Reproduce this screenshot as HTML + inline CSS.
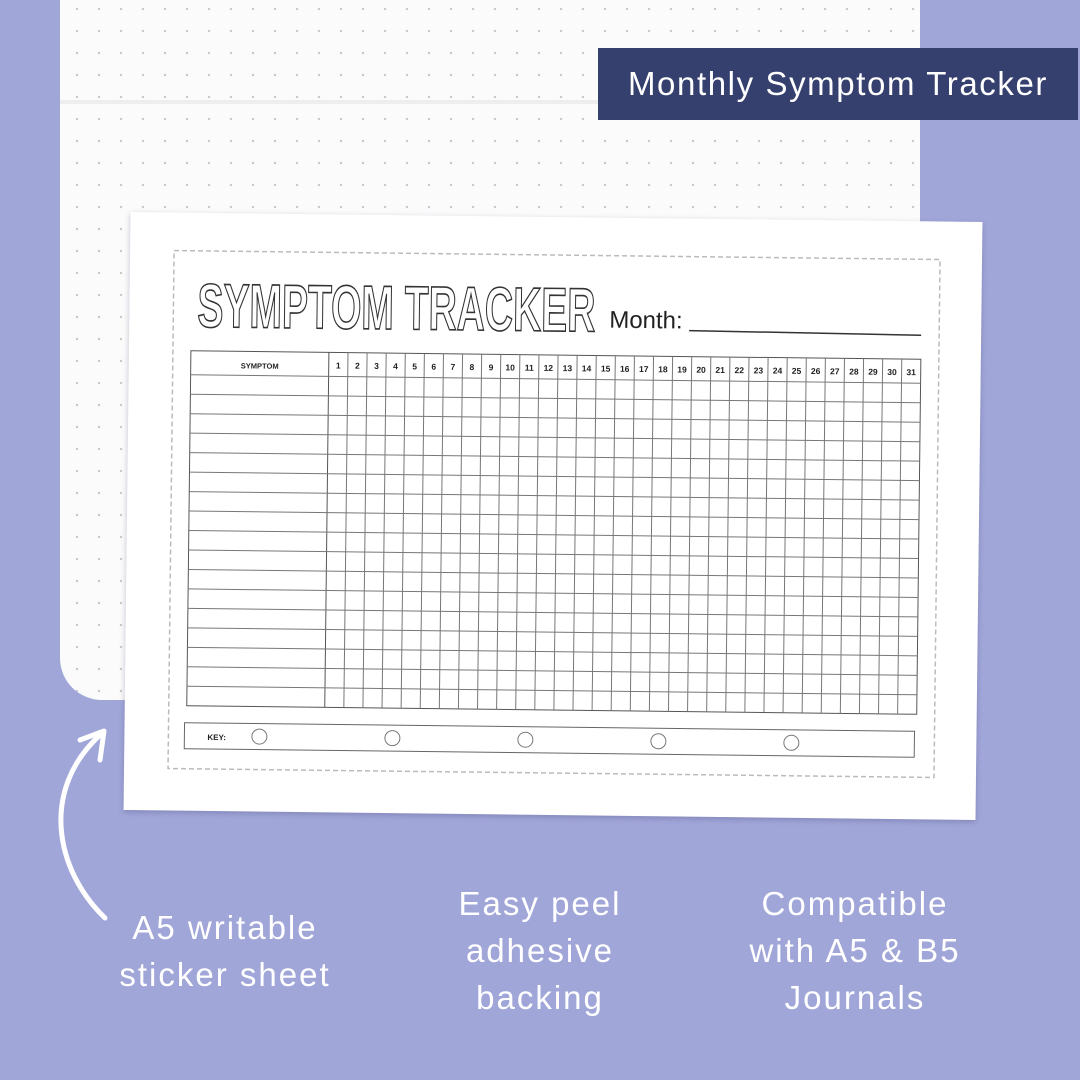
<!DOCTYPE html>
<html><head><meta charset="utf-8"><style>
body{margin:0;width:1080px;height:1080px;overflow:hidden;background:#a1a6d9;font-family:"Liberation Sans",sans-serif;position:relative}
.page{position:absolute;left:60px;top:-10px;width:860px;height:710px;background-color:#fbfbfb;border-radius:0 0 0 42px;
background-image:radial-gradient(circle,#c8c8c8 1px,transparent 1.4px);background-size:22px 22px;background-position:6px 8px}
.fold{position:absolute;left:60px;top:100px;width:860px;height:4px;background:#eeeeee}
.title{position:absolute;left:598px;top:48px;width:480px;height:72px;background:#36406f;color:#fff;font-size:33px;letter-spacing:1.6px;line-height:72px;text-align:center}
.st{position:absolute;left:127px;top:217px;width:852px;height:598px;background:#fff;transform:rotate(0.67deg);box-shadow:0 2px 6px rgba(60,60,110,.3)}
.cap{position:absolute;color:#fff;font-size:33px;letter-spacing:2px;line-height:47px;text-align:center;width:340px}
</style></head><body>
<div class="page"></div><div class="fold"></div>
<div class="title">Monthly Symptom Tracker</div>
<div class="st">
<svg width="852" height="598" xmlns="http://www.w3.org/2000/svg" font-family="Liberation Sans, sans-serif">
<rect x="44" y="38" width="766" height="518" fill="none" stroke="#bbb" stroke-width="1.5" stroke-dasharray="5,3"/>
<text x="68" y="114" font-size="62" font-weight="bold" textLength="398" lengthAdjust="spacingAndGlyphs" fill="#fff" stroke="#333" stroke-width="1.6">SYMPTOM TRACKER</text>
<text x="480" y="110" font-size="24" fill="#222" font-family="Liberation Sans, sans-serif">Month:</text>
<line x1="560" y1="112" x2="792" y2="114" stroke="#333" stroke-width="1.5"/>
<g stroke="#777" stroke-width="1" fill="none">
<rect x="62" y="138" width="730" height="355" stroke="#555"/>
<line x1="200" y1="138" x2="200" y2="493" stroke="#555"/>
<line x1="62" y1="162" x2="792" y2="162"/>
<g id="rows"></g><g id="cols"></g>
<rect x="60" y="510" width="730" height="26" stroke="#666"/>
<circle cx="135" cy="523" r="7.5"/><circle cx="268" cy="523" r="7.5"/><circle cx="401" cy="523" r="7.5"/><circle cx="534" cy="523" r="7.5"/><circle cx="667" cy="523" r="7.5"/>
</g>
<text x="131" y="155" font-size="7.5" font-weight="bold" text-anchor="middle" fill="#222">SYMPTOM</text>
<text x="83" y="527" font-size="8" font-weight="bold" fill="#222">KEY:</text>
<g id="nums" font-size="8.5" font-weight="bold" text-anchor="middle" fill="#222"></g>
</svg>
</div>
<svg style="position:absolute;left:0;top:0" width="1080" height="1080"><path d="M105 918 C55 870 40 790 100 735" fill="none" stroke="#fff" stroke-width="5" stroke-linecap="round"/><path d="M80 740 L104 731 L100 760" fill="none" stroke="#fff" stroke-width="5" stroke-linecap="round" stroke-linejoin="round"/></svg>
<div class="cap" style="left:55px;top:904px">A5 writable<br>sticker sheet</div>
<div class="cap" style="left:370px;top:880px">Easy peel<br>adhesive<br>backing</div>
<div class="cap" style="left:685px;top:880px">Compatible<br>with A5 &amp; B5<br>Journals</div>
<script>
var ns="http://www.w3.org/2000/svg",r=document.getElementById('rows'),c=document.getElementById('cols'),n=document.getElementById('nums');
for(var i=1;i<17;i++){var y=162+i*(331/17);var l=document.createElementNS(ns,'line');l.setAttribute('x1',62);l.setAttribute('x2',792);l.setAttribute('y1',y);l.setAttribute('y2',y);r.appendChild(l);}
var w=592/31;
for(var j=0;j<31;j++){var x=200+j*w;if(j>0){var l=document.createElementNS(ns,'line');l.setAttribute('x1',x);l.setAttribute('x2',x);l.setAttribute('y1',138);l.setAttribute('y2',493);c.appendChild(l);}
var t=document.createElementNS(ns,'text');t.setAttribute('x',x+w/2);t.setAttribute('y',154);t.textContent=j+1;n.appendChild(t);}
</script>
</body></html>
